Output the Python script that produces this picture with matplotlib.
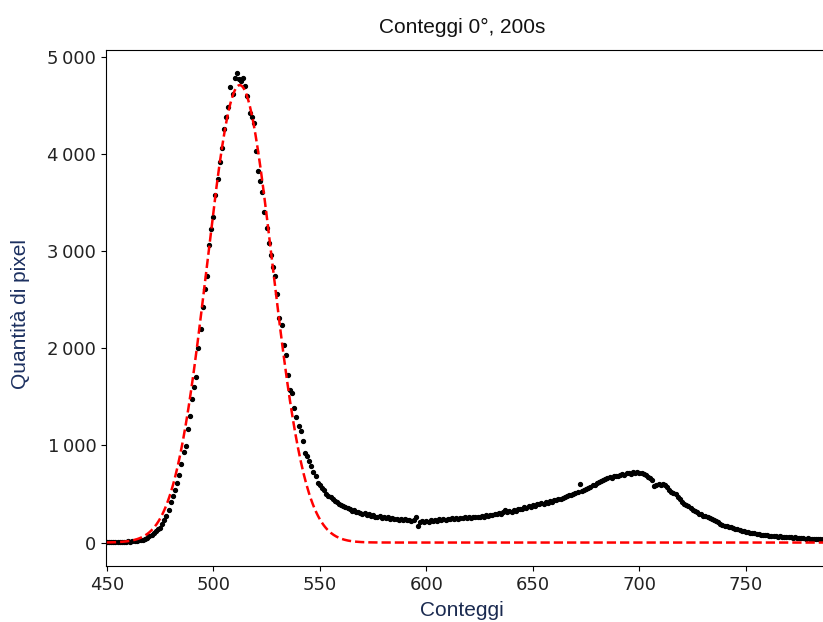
import numpy as np
import matplotlib
matplotlib.use("Agg")
import matplotlib.pyplot as plt
from matplotlib.ticker import FuncFormatter

# Measured counts per channel, starting at channel 450
first_channel = 450
counts = [
    8, 5, 10, 6, 9, 4, 8, 6, 10, 8,
    12, 10, 14, 16, 18, 22, 26, 31, 40, 50,
    65, 80, 95, 115, 135, 151, 190, 230, 271, 340,
    420, 480, 540, 614, 700, 809, 929, 991, 1170, 1306,
    1478, 1600, 1705, 2003, 2198, 2430, 2610, 2747, 3066, 3227,
    3357, 3580, 3742, 3917, 4067, 4259, 4380, 4489, 4695, 4616,
    4781, 4832, 4780, 4756, 4781, 4700, 4602, 4421, 4380, 4318,
    4036, 3827, 3720, 3608, 3408, 3238, 3083, 2960, 2843, 2747,
    2562, 2311, 2243, 2037, 1934, 1728, 1574, 1540, 1386, 1290,
    1197, 1145, 1042, 923, 888, 840, 785, 730, 682, 614,
    590, 560, 540, 505, 478, 470, 445, 430, 418, 400,
    385, 375, 368, 352, 345, 330, 335, 318, 310, 305,
    296, 300, 285, 290, 272, 280, 268, 262, 270, 255,
    262, 248, 258, 242, 250, 238, 245, 232, 240, 235,
    244, 228, 236, 225, 232, 262, 175, 212, 222, 208,
    220, 215, 228, 222, 235, 225, 238, 230, 242, 235,
    245, 240, 248, 242, 250, 246, 255, 248, 258, 252,
    262, 256, 264, 258, 268, 262, 275, 268, 280, 272,
    288, 280, 296, 290, 305, 298, 312, 340, 310, 325,
    318, 335, 328, 342, 350, 345, 362, 355, 372, 368,
    385, 380, 398, 392, 405, 400, 415, 410, 425, 420,
    435, 442, 450, 445, 462, 470, 478, 485, 492, 500,
    512, 520, 604, 532, 545, 550, 565, 572, 588, 595,
    610, 622, 638, 648, 655, 662, 672, 668, 682, 690,
    684, 698, 705, 700, 712, 720, 708, 722, 716, 725,
    712, 720, 704, 698, 680, 662, 640, 580, 595, 600,
    588, 605, 597, 570, 545, 520, 514, 505, 470, 445,
    420, 398, 391, 375, 360, 340, 322, 315, 298, 290,
    275, 270, 258, 255, 240, 232, 218, 210, 195, 185,
    172, 168, 160, 155, 148, 140, 135, 128, 124, 117,
    112, 108, 102, 98, 94, 90, 84, 80, 82, 76,
    74, 70, 72, 66, 65, 62, 64, 58, 60, 55,
    56, 52, 50, 52, 46, 48, 44, 46, 41, 43,
    38, 40, 36, 39, 35, 38, 34, 37, 33, 36,
    32,
]

# Gaussian fit of the main peak
fit_amplitude = 4712
fit_mean = 512.4
fit_sigma = 15.4

channels = np.arange(first_channel, first_channel + len(counts))
fit_x = np.linspace(first_channel, channels[-1], 800)
fit_y = fit_amplitude * np.exp(-(fit_x - fit_mean) ** 2 / (2 * fit_sigma ** 2))

fig = plt.figure(figsize=(8.23, 6.22), dpi=100)
ax = fig.add_axes([106 / 823, 56 / 622, 1.004 - 106 / 823, 516 / 622])

ax.plot(channels, counts, "o", ms=2.8, color="black", zorder=2)
ax.plot(fit_x, fit_y, "--", color="red", lw=1.8, zorder=3)

ax.set_xlim(449.6, 450 + (823 - 107) / 2.12)
ax.set_xticks([450, 500, 550, 600, 650, 700, 750])
ax.set_yticks([0, 1000, 2000, 3000, 4000, 5000])
ax.yaxis.set_major_formatter(
    FuncFormatter(lambda v, p: f"{int(v):,}".replace(",", "\u2009"))
)
ax.tick_params(labelsize=13, labelcolor="#222222")

label_font = dict(family="Liberation Sans", fontsize=15)
fig.text(462 / 823, 1 - 27 / 622, "Conteggi 0°, 200s",
         ha="center", va="center", color="#111111", **label_font)
fig.text(462 / 823, 1 - 611 / 622, "Conteggi",
         ha="center", va="center", color="#1a2a50", **label_font)
fig.text(21 / 823, 1 - 314 / 622, "Quantità di pixel", rotation=90,
         ha="center", va="center", color="#1c3060", **label_font)

fig.savefig("out.png", dpi=100)
